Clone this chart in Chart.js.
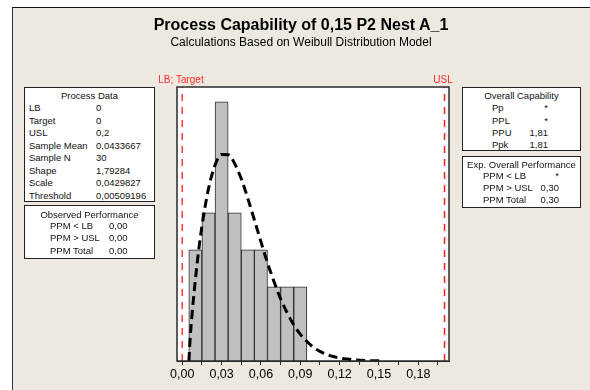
<!DOCTYPE html>
<html>
<head>
<meta charset="utf-8">
<script src="https://cdn.jsdelivr.net/npm/chart.js@4/dist/chart.umd.min.js"></script>
<style>
  body { margin: 0; background: #fff; font-family: "Liberation Sans", Arial, sans-serif; }
  #wrap { position: relative; width: 590px; height: 390px; overflow: hidden; }
  #frame { position: absolute; left: 12px; top: 7px; right: 0; bottom: 0; background: #ede9e0;
           border-top: 1px solid #111; border-left: 1px solid #333; }
  #dbChart { position: absolute; left: 0; top: 0; }
  .title { position: absolute; left: 0; width: 602px; text-align: center; color: #000; white-space: nowrap; }
  .red { position: absolute; color: #ff2a2a; font-size: 10px; line-height: 12px; text-align: center; white-space: nowrap; }
  .box { position: absolute; background: #fff; border: 1px solid #222; font-size: 9.5px; line-height: 11px; color: #111; }
  .box span { position: absolute; white-space: nowrap; }
  .box .hd { left: 0; right: 0; text-align: center; }
  .box .r { text-align: right; }
</style>
</head>
<body>
<div id="wrap">
  <div id="frame"></div>
  <canvas id="dbChart" width="590" height="390"></canvas>

  <div class="title" style="top:16px; font-size:16px; line-height:18px; font-weight:bold;">Process Capability of 0,15 P2 Nest A_1</div>
  <div class="title" style="top:35px; font-size:12px; line-height:14px;">Calculations Based on Weibull Distribution Model</div>

  <div class="red" style="left:141px; width:80px; top:74px;">LB; Target</div>
  <div class="red" style="left:423px; width:40px; top:74px;">USL</div>

  <div class="box" style="left:24px; top:87px; width:129px; height:113px;">
    <span class="hd" style="top:2px;">Process Data</span>
    <span style="left:4px; top:14px;">LB</span><span style="left:71px; top:14px;">0</span>
    <span style="left:4px; top:26.5px;">Target</span><span style="left:71px; top:26.5px;">0</span>
    <span style="left:4px; top:39px;">USL</span><span style="left:71px; top:39px;">0,2</span>
    <span style="left:4px; top:51.5px;">Sample Mean</span><span style="left:71px; top:51.5px;">0,0433667</span>
    <span style="left:4px; top:64px;">Sample N</span><span style="left:71px; top:64px;">30</span>
    <span style="left:4px; top:76.5px;">Shape</span><span style="left:71px; top:76.5px;">1,79284</span>
    <span style="left:4px; top:89px;">Scale</span><span style="left:71px; top:89px;">0,0429827</span>
    <span style="left:4px; top:101.5px;">Threshold</span><span style="left:71px; top:101.5px;">0,00509196</span>
  </div>

  <div class="box" style="left:24px; top:205px; width:129px; height:52px;">
    <span class="hd" style="top:2.5px;">Observed Performance</span>
    <span style="left:25px; top:14px;">PPM &lt; LB</span><span style="left:84px; top:14px;">0,00</span>
    <span style="left:25px; top:26px;">PPM &gt; USL</span><span style="left:84px; top:26px;">0,00</span>
    <span style="left:25px; top:38.5px;">PPM Total</span><span style="left:84px; top:38.5px;">0,00</span>
  </div>

  <div class="box" style="left:462px; top:87px; width:117px; height:62px;">
    <span class="hd" style="top:2px;">Overall Capability</span>
    <span style="left:29px; top:14px;">Pp</span><span class="r" style="right:32px; top:14px;">*</span>
    <span style="left:29px; top:26.5px;">PPL</span><span class="r" style="right:32px; top:26.5px;">*</span>
    <span style="left:29px; top:39px;">PPU</span><span class="r" style="right:32px; top:39px;">1,81</span>
    <span style="left:29px; top:51px;">Ppk</span><span class="r" style="right:32px; top:51px;">1,81</span>
  </div>

  <div class="box" style="left:462px; top:156px; width:117px; height:50px;">
    <span class="hd" style="top:1.5px;">Exp. Overall Performance</span>
    <span style="left:20px; top:12.5px;">PPM &lt; LB</span><span class="r" style="right:21px; top:12.5px;">*</span>
    <span style="left:20px; top:24.5px;">PPM &gt; USL</span><span class="r" style="right:21px; top:24.5px;">0,30</span>
    <span style="left:20px; top:37px;">PPM Total</span><span class="r" style="right:21px; top:37px;">0,30</span>
  </div>
</div>

<script>
// histogram bins (centre of each 0,01 wide bin) and counts
const binCenters = [0.01, 0.02, 0.03, 0.04, 0.05, 0.06, 0.07, 0.08, 0.09];
const binCounts = [3, 4, 7, 4, 3, 3, 2, 2, 2];

// fitted Weibull curve (in counts)
const curveX = [0.0051, 0.006, 0.0075, 0.01, 0.0125, 0.015, 0.02, 0.025, 0.03, 0.035, 0.04, 0.045,
  0.05, 0.055, 0.06, 0.065, 0.07, 0.075, 0.08, 0.085, 0.09, 0.095, 0.10, 0.105, 0.11, 0.115,
  0.12, 0.13, 0.14, 0.153];
const curveY = [0, 0.59, 1.27, 2.19, 2.98, 3.64, 4.65, 5.29, 5.58, 5.57, 5.33, 4.92,
  4.39, 3.81, 3.22, 2.65, 2.14, 1.68, 1.30, 0.98, 0.72, 0.53, 0.37, 0.26, 0.18, 0.12,
  0.08, 0.034, 0.013, 0.004];

// spec limits
const lowerBound = 0;
const upperSpec = 0.2;

// x axis ticks
const xTickValues = [0, 0.015, 0.03, 0.045, 0.06, 0.075, 0.09, 0.105, 0.12, 0.135, 0.15, 0.165, 0.18, 0.195];
const xTickLabels = ["0,00", "", "0,03", "", "0,06", "", "0,09", "", "0,12", "", "0,15", "", "0,18", ""];

const xMin = -0.004;
const xMax = 0.2034;
const yMax = 7.4;

const plotFrame = {
  id: "plotFrame",
  beforeDraw(chart) {
    const a = chart.chartArea;
    const c = chart.ctx;
    c.save();
    c.fillStyle = "#ffffff";
    c.fillRect(a.left, a.top, a.right - a.left, a.bottom - a.top);
    c.restore();
  },
  afterDatasetsDraw(chart) {
    const a = chart.chartArea;
    const c = chart.ctx;
    c.save();
    c.strokeStyle = "#2a2a2a";
    c.lineWidth = 1.5;
    c.strokeRect(a.left, a.top, a.right - a.left, a.bottom - a.top);
    c.restore();
  }
};

const ctx = document.getElementById("dbChart");

const capChart = new Chart(ctx, {
  type: "bar",
  data: {
    datasets: [
      {
        type: "line",
        data: curveX.map((x, i) => ({ x: x, y: curveY[i] })),
        borderColor: "#000",
        borderWidth: 3,
        borderDash: [9, 5],
        pointRadius: 0,
        cubicInterpolationMode: "monotone",
        fill: false
      },
      {
        type: "line",
        data: [{ x: lowerBound, y: 0 }, { x: lowerBound, y: yMax }],
        borderColor: "#ff3b3b",
        borderWidth: 1.5,
        borderDash: [7, 6],
        pointRadius: 0
      },
      {
        type: "line",
        data: [{ x: upperSpec, y: 0 }, { x: upperSpec, y: yMax }],
        borderColor: "#ff2020",
        borderWidth: 1.5,
        borderDash: [7, 6],
        pointRadius: 0
      },
      {
        data: binCenters.map((x, i) => ({ x: x, y: binCounts[i] })),
        backgroundColor: "#c0c0c0",
        borderColor: "#2e2e2e",
        borderWidth: 1,
        barPercentage: 1,
        categoryPercentage: 1
      }
    ]
  },
  options: {
    responsive: false,
    animation: false,
    devicePixelRatio: 1,
    layout: { padding: { left: 177, top: 87, right: 141, bottom: 5 } },
    scales: {
      x: {
        type: "linear",
        min: xMin,
        max: xMax,
        offset: false,
        afterBuildTicks: s => { s.ticks = xTickValues.map(v => ({ value: v })); },
        afterFit: s => { s.height = 24; },
        ticks: {
          autoSkip: false,
          maxRotation: 0,
          padding: 2,
          color: "#000",
          font: { family: "Liberation Sans", size: 12.5 },
          callback: (v, i) => xTickLabels[i]
        },
        grid: { offset: false, drawOnChartArea: false, tickLength: 4, color: "#2a2a2a" },
        border: { display: true, color: "#2a2a2a" }
      },
      y: {
        display: false,
        min: 0,
        max: yMax
      }
    },
    plugins: {
      legend: { display: false },
      tooltip: { enabled: false }
    }
  },
  plugins: [plotFrame]
});
</script>
</body>
</html>
